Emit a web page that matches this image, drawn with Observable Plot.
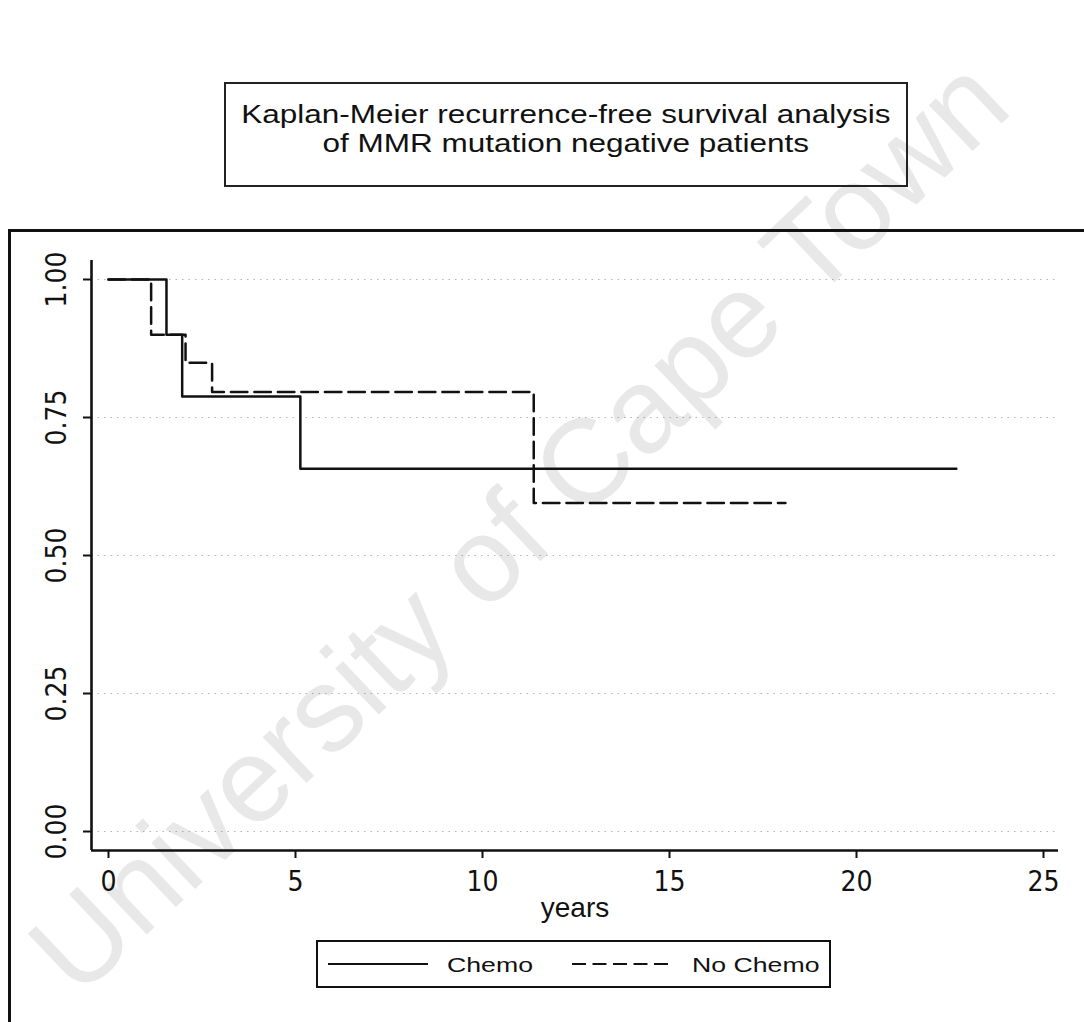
<!DOCTYPE html>
<html>
<head>
<meta charset="utf-8">
<script src="https://cdn.jsdelivr.net/npm/d3@7"></script>
<script src="https://cdn.jsdelivr.net/npm/@observablehq/plot@0.6"></script>
<style>
  body { margin: 0; background: #fff; }
  #page { position: relative; width: 1084px; height: 1022px; overflow: hidden; background: #fff;
          font-family: "Liberation Sans", Arial, sans-serif; color: #111; }
  #watermark { position: absolute; left: 78px; top: 898px; font-size: 120px; line-height: 1;
               color: #e8e8e8; white-space: nowrap; transform-origin: 0 102px; transform: rotate(-43.5deg); }
  #frame { position: absolute; left: 8px; top: 229px; width: 1200px; height: 1000px;
           border-left: 3px solid #111; border-top: 3px solid #111; }
  #titlebox { position: absolute; left: 224px; top: 82px; width: 680px; height: 101px; border: 2px solid #222; }
  .tline { position: absolute; left: 0; width: 100%; text-align: center; font-size: 25.6px; line-height: 29px;
           white-space: nowrap; }
  .tline span { display: inline-block; transform: scaleX(1.23); transform-origin: center; }
  #plot { position: absolute; left: 0; top: 233px; }
  #legend { position: absolute; left: 316px; top: 940px; width: 511px; height: 44px; border: 2px solid #111; }
  .ltext { position: absolute; font-size: 21px; line-height: 21px; white-space: nowrap;
           transform: scaleX(1.27); transform-origin: 0 0; }
</style>
</head>
<body>
<div id="page">
  <div id="watermark">University of Cape Town</div>
  <div id="frame"></div>
  <div id="titlebox">
    <div class="tline" style="top:15.9px"><span>Kaplan-Meier recurrence-free survival analysis</span></div>
    <div class="tline" style="top:44.9px"><span>of MMR mutation negative patients</span></div>
  </div>
  <div id="plot"></div>
  <div id="legend"></div>
</div>
<script>
// Kaplan-Meier step data (years, survival probability)
const chemoYears = [0, 1.55, 1.97, 5.13, 22.67];
const chemoSurv = [1.0, 0.900, 0.788, 0.657, 0.657];
const noChemoYears = [0, 1.14, 2.06, 2.77, 11.37, 18.10];
const noChemoSurv = [1.0, 0.900, 0.849, 0.796, 0.595, 0.595];
const seriesNames = ["Chemo", "No Chemo"];
const xTicks = [0, 5, 10, 15, 20, 25];
const yTicks = [0, 0.25, 0.5, 0.75, 1];
const xLabel = "years";

const chemo = chemoYears.map((t, i) => ({t, s: chemoSurv[i]}));
const noChemo = noChemoYears.map((t, i) => ({t, s: noChemoSurv[i]}));

const xDom = [-0.4545, 25.401];
const yDom = [-0.0344, 1.0344];
const tickFont = "'Liberation Sans Narrow', 'Arial Narrow', 'DejaVu Sans Condensed', 'Liberation Sans', sans-serif";

const chart = Plot.plot({
  width: 1084,
  height: 700,
  marginLeft: 91,
  marginRight: 26,
  marginTop: 27,
  marginBottom: 83,
  x: {domain: xDom},
  y: {domain: yDom},
  style: {background: "transparent", fontFamily: "'Liberation Sans', Arial, sans-serif", color: "#111"},
  marks: [
    Plot.gridY(yTicks, {stroke: "#777", strokeOpacity: 0.55, strokeDasharray: "1.5,5", strokeWidth: 1}),
    Plot.ruleX([xDom[0]], {stroke: "#111", strokeWidth: 2.6}),
    Plot.ruleY([yDom[0]], {stroke: "#111", strokeWidth: 2.6}),
    Plot.axisX(xTicks, {tickSize: 8, tickPadding: 13, fontSize: 28, fontFamily: tickFont, label: null, strokeWidth: 2, stroke: "#111"}),
    Plot.axisY(yTicks, {tickSize: 8, tickFormat: () => "", label: null, strokeWidth: 2, stroke: "#111"}),
    Plot.text(yTicks, {y: d => d, text: d => d.toFixed(2), frameAnchor: "left", dx: -34, rotate: -90,
                       fontSize: 28, fontFamily: tickFont, textAnchor: "middle", lineAnchor: "middle", fill: "#111"}),
    Plot.text([xLabel], {text: d => d, frameAnchor: "bottom", lineAnchor: "top", dy: 47, fontSize: 28, fill: "#111"}),
    Plot.line(chemo, {x: "t", y: "s", curve: "step-after", stroke: "#111", strokeWidth: 2.5}),
    Plot.line(noChemo, {x: "t", y: "s", curve: "step-after", stroke: "#111", strokeWidth: 2.5, strokeDasharray: "16.5,7"})
  ]
});
document.getElementById("plot").appendChild(chart);

// Legend (box interior origin at page 318, 942)
const legend = d3.select("#legend");
const ox = 318, oy = 942;
const swatch = legend.append("svg")
  .attr("width", 511).attr("height", 44)
  .style("position", "absolute").style("left", "0px").style("top", "0px");
const items = [
  {name: seriesNames[0], x1: 328, x2: 428, tx: 447, dash: null},
  {name: seriesNames[1], x1: 572, x2: 672, tx: 692, dash: "14,6.5"}
];
items.forEach(it => {
  swatch.append("line")
    .attr("x1", it.x1 - ox).attr("x2", it.x2 - ox)
    .attr("y1", 964 - oy).attr("y2", 964 - oy)
    .attr("stroke", "#111").attr("stroke-width", 2.2)
    .attr("stroke-dasharray", it.dash);
  legend.append("div").attr("class", "ltext")
    .style("left", (it.tx - ox) + "px").style("top", (953.9 - oy) + "px")
    .text(it.name);
});
</script>
</body>
</html>
